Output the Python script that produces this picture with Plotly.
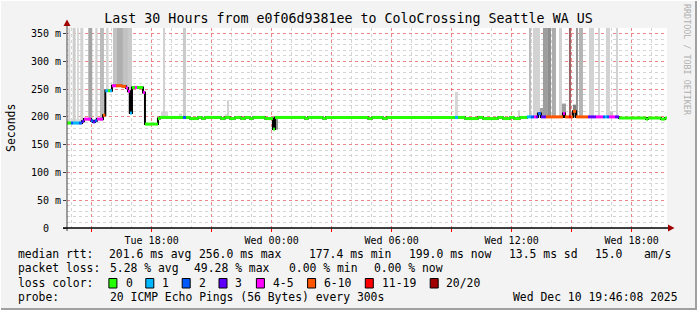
import plotly.graph_objects as go
import pandas as pd

TITLE = "Last 30 Hours from e0f06d9381ee to ColoCrossing Seattle WA US"
T_START = "2025-12-09 13:46:08"
T_END = "2025-12-10 19:46:08"

# ---- median rtt runs: start time (day hh:mm), median ms, loss class index ----
med_start = [
    "09 13:46", "09 13:58", "09 14:04", "09 14:22", "09 14:31", "09 14:37", "09 14:58", "09 15:04",
    "09 15:10", "09 15:16", "09 15:34", "09 15:41", "09 15:49", "09 15:55", "09 16:01", "09 16:13",
    "09 16:31", "09 16:43", "09 16:49", "09 16:55", "09 17:01", "09 17:10", "09 17:16", "09 17:34",
    "09 17:40", "09 18:19", "09 18:25", "09 19:34", "09 19:43", "09 19:55", "09 20:19", "09 20:31",
    "09 20:40", "09 21:28", "09 21:40", "09 21:55", "09 22:10", "09 22:28", "09 22:40", "09 22:55",
    "09 23:04", "09 23:40", "10 00:04", "10 00:10", "10 01:40", "10 01:49", "10 02:34", "10 02:43",
    "10 04:49", "10 05:01", "10 05:34", "10 05:46", "10 09:10", "10 09:19", "10 09:40", "10 10:19",
    "10 10:34", "10 11:19", "10 11:34", "10 11:55", "10 12:07", "10 12:25", "10 12:46", "10 12:58",
    "10 13:07", "10 13:13", "10 13:19", "10 13:28", "10 13:43", "10 14:34", "10 14:40", "10 14:52",
    "10 14:58", "10 15:04", "10 15:13", "10 15:49", "10 16:13", "10 16:34", "10 16:40", "10 16:46",
    "10 16:52", "10 17:10", "10 17:22", "10 18:43", "10 18:49", "10 19:28", "10 19:40",
]
med_ms = [
    189, 189, 189, 189, 192, 196, 193, 191,
    193, 196, 203, 247, 247, 247, 256, 256,
    255, 252, 246, 207, 253, 253, 253, 244,
    187, 197, 199, 199, 199, 197, 199, 197,
    199, 197, 199, 197, 199, 197, 199, 197,
    199, 197, 178, 199, 197, 199, 197, 199,
    197, 199, 197, 199, 199, 199, 197, 199,
    197, 199, 197, 199, 197, 199, 200, 200,
    200, 200, 206, 200, 200, 206, 200, 200,
    200, 210, 200, 200, 200, 200, 200, 200,
    200, 200, 198, 196, 198, 196, 198,
]
med_loss = [
    0, 2, 1, 2, 3, 4, 2, 3,
    2, 4, 5, 1, 0, 1, 4, 5,
    5, 4, 4, 1, 0, 4, 0, 4,
    0, 0, 0, 2, 0, 0, 0, 0,
    0, 0, 0, 0, 0, 0, 0, 0,
    0, 0, 0, 0, 0, 0, 0, 0,
    0, 0, 0, 0, 1, 0, 0, 0,
    0, 0, 0, 0, 0, 0, 1, 2,
    4, 3, 2, 3, 5, 4, 5, 6,
    5, 5, 5, 3, 4, 2, 1, 2,
    4, 3, 0, 0, 0, 0, 0,
]

# ---- smoke (ping spread): start, end, low ms, high ms, share of pings ----
smoke_start = [
    "09 13:46", "09 13:50", "09 14:03", "09 14:17", "09 14:26", "09 14:50", "09 15:11", "09 15:25",
    "09 15:46", "09 16:04", "09 16:16", "09 16:34", "09 16:49",
    "09 18:28", "09 18:35", "09 19:22", "09 19:34", "09 21:40", "09 21:49", "10 00:10", "10 09:10",
    "10 12:20",
    "10 12:52", "10 13:04", "10 13:25", "10 13:34", "10 13:49", "10 14:01", "10 14:22", "10 14:31",
    "10 14:52", "10 15:04", "10 15:13", "10 15:22", "10 15:52", "10 16:19", "10 16:43", "10 16:55",
    "10 17:13",
]
smoke_end = [
    "09 14:34", "09 13:56", "09 14:12", "09 14:21", "09 14:35", "09 15:02", "09 15:18", "09 15:37",
    "09 15:51", "09 16:16", "09 16:34", "09 16:49", "09 17:01",
    "09 18:49", "09 18:38", "09 19:31", "09 19:43", "09 21:52", "09 21:52", "10 00:19", "10 09:19",
    "10 12:23",
    "10 12:58", "10 13:25", "10 13:40", "10 13:49", "10 13:58", "10 14:13", "10 14:31", "10 14:43",
    "10 14:58", "10 15:16", "10 15:19", "10 15:34", "10 16:07", "10 16:25", "10 16:55", "10 17:04",
    "10 17:19",
]
smoke_lo = [
    186, 187, 188, 188, 188, 193, 191, 193,
    246, 255, 255, 252, 206,
    198, 198, 198, 198, 198, 198, 177, 198,
    198,
    199, 199, 199, 199, 199, 199, 199, 199,
    199, 199, 199, 199, 199, 199, 199, 199,
    199,
]
smoke_hi = [
    196, 400, 400, 400, 400, 400, 400, 400,
    400, 400, 400, 400, 400,
    210, 400, 206, 400, 205, 230, 199, 245,
    212,
    400, 400, 216, 400, 400, 400, 400, 224,
    400, 222, 400, 400, 400, 400, 400, 210,
    400,
]
smoke_share = [
    0.08, 0.15, 0.18, 0.1, 0.15, 0.45, 0.15, 0.3,
    0.12, 0.25, 0.38, 0.25, 0.2,
    0.12, 0.15, 0.12, 0.2, 0.1, 0.15, 0.6, 0.12,
    0.15,
    0.3, 0.15, 0.45, 0.5, 0.6, 0.4, 0.15, 0.5,
    0.55, 0.7, 0.55, 0.35, 0.15, 0.15, 0.15, 0.25,
    0.15,
]
# interval with total loss
dead_start = ["10 14:52"]
dead_end = ["10 14:58"]

loss_labels = ["0", "1", "2", "3", "4-5", "6-10", "11-19", "20/20"]
loss_colors = ["#26ff00", "#00b8ff", "#0059ff", "#5e00ff", "#ff00ff", "#ff5500", "#ff0000", "#a00000"]

ytick_vals = [0, 50, 100, 150, 200, 250, 300, 350]
ytick_text = ["0\u00a0\u00a0", "50 m", "100 m", "150 m", "200 m", "250 m", "300 m", "350 m"]
xtick_vals = ["2025-12-09 15:00", "2025-12-09 18:00", "2025-12-09 21:00", "2025-12-10 00:00",
              "2025-12-10 03:00", "2025-12-10 06:00", "2025-12-10 09:00", "2025-12-10 12:00",
              "2025-12-10 15:00", "2025-12-10 18:00"]
xtick_text = ["", "Tue 18:00", "", "Wed 00:00", "", "Wed 06:00", "", "Wed 12:00", "", "Wed 18:00"]

stats_rtt = ["201.6 ms avg", "256.0 ms max", "177.4 ms min", "199.0 ms now", "13.5 ms sd", "15.0", "am/s"]
stats_loss = ["5.28 % avg", "49.28 % max", "0.00 % min", "0.00 % now"]
probe_text = "20 ICMP Echo Pings (56 Bytes) every 300s"
stamp_text = "Wed Dec 10 19:46:08 2025"
side_text = "RRDTOOL / TOBI OETIKER"

MONO = "DejaVu Sans Mono"


def T(s):
    return pd.Timestamp("2025-12-" + s)


fig = go.Figure()

# smoke bars
s0 = [T(s) for s in smoke_start]
s1 = [T(s) for s in smoke_end]
cent = [a + (b - a) / 2 for a, b in zip(s0, s1)]
wid = [(b - a).total_seconds() * 1000 for a, b in zip(s0, s1)]
greys = []
for sh in smoke_share:
    g = int(round(232 - sh * 150))
    greys.append(f"rgb({g},{g},{g})")
fig.add_trace(go.Bar(x=cent, base=smoke_lo, y=[h - l for h, l in zip(smoke_hi, smoke_lo)],
                     width=wid, marker=dict(color=greys, line=dict(width=0)), hoverinfo="skip"))

d0 = [T(s) for s in dead_start]
d1 = [T(s) for s in dead_end]
fig.add_trace(go.Bar(x=[a + (b - a) / 2 for a, b in zip(d0, d1)], base=[200] * len(d0),
                     y=[200] * len(d0), width=[(b - a).total_seconds() * 1000 for a, b in zip(d0, d1)],
                     marker=dict(color="rgba(160,0,0,0.35)", line=dict(width=0)), hoverinfo="skip"))

# black step median
mx = [T(s) for s in med_start] + [T(T_END[8:16])]
my = med_ms + [med_ms[-1]]
fig.add_trace(go.Scatter(x=mx, y=my, mode="lines", line=dict(color="black", width=2, shape="hv"),
                         hoverinfo="skip"))

# colored median segments by loss class
for k, col in enumerate(loss_colors):
    xs, ys = [], []
    for i in range(len(med_start)):
        if med_loss[i] != k:
            continue
        xs += [mx[i], mx[i + 1], None]
        ys += [med_ms[i], med_ms[i], None]
    if xs:
        fig.add_trace(go.Scatter(x=xs, y=ys, mode="lines", line=dict(color=col, width=3),
                                 hoverinfo="skip"))

PX0, PX1, PY0, PY1 = 67, 667, 228, 28


def px(x):
    return (x - PX0) / (PX1 - PX0)


def py(y):
    return (PY0 - y) / (PY0 - PY1)


ann = []


def note(x, y, text, anchor="left", size=11.4, color="black", angle=0, font=MONO):
    ann.append(dict(x=px(x), y=py(y), xref="paper", yref="paper", text=text, showarrow=False,
                    xanchor=anchor, yanchor="middle", textangle=angle,
                    font=dict(family=font, size=size, color=color)))


note(15.6, 254, "median rtt:")
for x, t in zip([107, 196.5, 306.7, 406.7, 506.7, 593.3, 642.2], stats_rtt):
    note(x, 254, t)
note(15.6, 268, "packet loss:")
for x, t in zip([107.6, 192, 286.7, 372.4], stats_loss):
    note(x, 268, t)
note(15.6, 283, "loss color:")
box_x = [108.9, 145.8, 182.2, 219.0, 256.4, 307.6, 365.3, 430.2]
lab_x = [123.6, 160.0, 196.9, 233.3, 271.0, 322.0, 380.0, 444.4]
shapes = []
for bx, lx, lab, col in zip(box_x, lab_x, loss_labels, loss_colors):
    shapes.append(dict(type="rect", xref="paper", yref="paper", x0=px(bx), x1=px(bx + 8),
                       y0=py(278.5), y1=py(288), fillcolor=col, line=dict(color="black", width=1)))
    note(lx, 283, lab)
note(15.6, 297, "probe:")
note(107.6, 297, probe_text)
note(680, 297, stamp_text, anchor="right")
note(11, 128, "Seconds", anchor="center", angle=-90, size=11.5)
note(687, 60, side_text, anchor="center", angle=90, size=8.4, color="#b0b0b0")

# axis extensions and arrows
shapes.append(dict(type="line", xref="paper", yref="paper", x0=px(67), x1=px(67), y0=py(231), y1=py(24),
                   line=dict(color="#404040", width=1)))
shapes.append(dict(type="line", xref="paper", yref="paper", x0=px(63), x1=px(670), y0=py(228), y1=py(228),
                   line=dict(color="black", width=1.5)))
shapes.append(dict(type="path", xref="paper", yref="paper",
                   path=f"M {px(63.5)} {py(26)} L {px(70.5)} {py(26)} L {px(67)} {py(19.5)} Z",
                   fillcolor="#a00000", line=dict(width=0)))
shapes.append(dict(type="path", xref="paper", yref="paper",
                   path=f"M {px(668)} {py(224.5)} L {px(668)} {py(231.5)} L {px(674.5)} {py(228)} Z",
                   fillcolor="#a00000", line=dict(width=0)))
# frame
shapes.append(dict(type="line", xref="paper", yref="paper", x0=px(0), x1=px(697), y0=py(309), y1=py(309),
                   line=dict(color="#a0a0a0", width=2)))
shapes.append(dict(type="line", xref="paper", yref="paper", x0=px(696), x1=px(696), y0=py(0), y1=py(310),
                   line=dict(color="#a0a0a0", width=2)))
shapes.append(dict(type="line", xref="paper", yref="paper", x0=px(0), x1=px(697), y0=py(0.5), y1=py(0.5),
                   line=dict(color="#ffffff", width=1)))
shapes.append(dict(type="line", xref="paper", yref="paper", x0=px(0.5), x1=px(0.5), y0=py(0), y1=py(310),
                   line=dict(color="#ffffff", width=1)))

fig.update_layout(
    width=697, height=310,
    margin=dict(l=PX0, r=697 - PX1, t=PY1, b=310 - PY0),
    paper_bgcolor="#f3f3f3", plot_bgcolor="#ffffff",
    showlegend=False, barmode="overlay",
    title=dict(text=TITLE, x=0.5, xref="container", xanchor="center", y=1 - 18.5 / 310,
               yref="container", yanchor="middle", font=dict(family=MONO, size=13.3, color="black")),
    annotations=ann, shapes=shapes,
)
fig.update_xaxes(
    type="date", range=[T_START, T_END], tickmode="array", tickvals=xtick_vals, ticktext=xtick_text,
    ticks="outside", ticklen=3, tickcolor="#ff0000", tickwidth=1,
    showgrid=True, gridcolor="rgba(255,70,70,0.55)", griddash="dot", gridwidth=1,
    minor=dict(dtick=3600000, tick0="2025-12-09 14:00", showgrid=True, gridcolor="#d4d4d4",
               griddash="dot", gridwidth=1, ticks=""),
    showline=False, zeroline=False, fixedrange=True,
    tickfont=dict(family=MONO, size=10, color="black"),
)
fig.update_yaxes(
    range=[0, 360], tickmode="array", tickvals=ytick_vals, ticktext=ytick_text,
    ticks="outside", ticklen=3, tickcolor="#404040", tickwidth=1,
    showgrid=True, gridcolor="rgba(255,70,70,0.55)", griddash="dot", gridwidth=1,
    minor=dict(dtick=10, tick0=0, showgrid=True, gridcolor="#d4d4d4", griddash="dot", gridwidth=1, ticks=""),
    showline=False, zeroline=False, fixedrange=True,
    tickfont=dict(family=MONO, size=10, color="black"),
)

fig.write_html("out.html")
